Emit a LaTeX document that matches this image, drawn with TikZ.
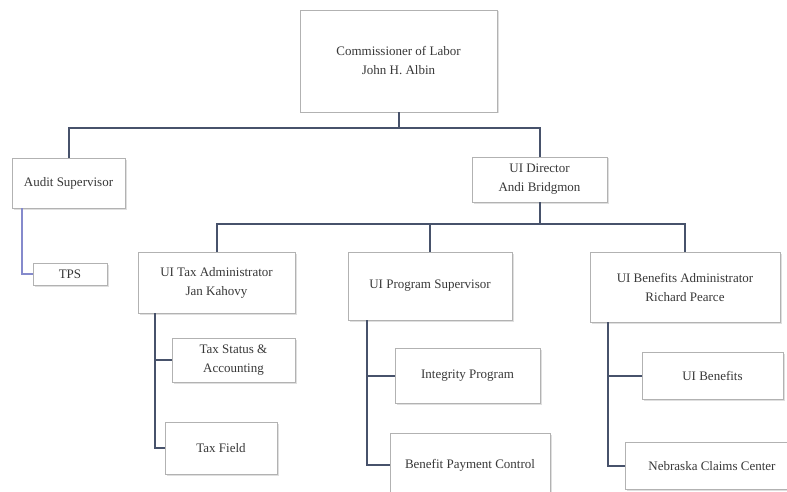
\documentclass[tikz,border=0pt]{standalone}
\usepackage{fontspec}
\setmainfont{Liberation Serif}
\usepackage{tikz}
\usetikzlibrary{positioning,shadows}
\definecolor{colorlink}{rgb}{0.28, 0.32, 0.42}
\definecolor{colorlinkblue}{rgb}{0.52, 0.54, 0.80}
\definecolor{colortext}{rgb}{0.22, 0.22, 0.22}
\tikzstyle{unit}=[rectangle, draw=black!30, line width=0.8pt, fill=white, align=center, text=colortext, inner sep=2pt, font=\fontsize{13}{19}\selectfont, drop shadow={shadow xshift=1.5pt, shadow yshift=-1.5pt, fill=black!25}]
\tikzstyle{link}=[draw=colorlink, line width=2pt]
\tikzstyle{linkblue}=[draw=colorlinkblue, line width=2pt]

\begin{document}
\begin{tikzpicture}[x=1pt, y=-1pt]
		\useasboundingbox (0, 0) rectangle (787, 492);
		
		\node[unit, minimum width=197pt, minimum height=102pt] at (398.5, 61) (comm) {Commissioner of Labor \\ John H. Albin};
		
		\node[unit, minimum width=113pt, minimum height=50pt] at (68.5, 183) (audit) {Audit Supervisor};
		\node[unit, minimum width=74pt, minimum height=22pt] at (70, 274) (tps) {TPS};
		
		\node[unit, minimum width=135pt, minimum height=45pt] at (539.5, 179.5) (dir) {UI Director \\ Andi Bridgmon};
		
		\node[unit, minimum width=157pt, minimum height=61pt] at (216.5, 282.5) (taxadm) {UI Tax Administrator \\ Jan Kahovy};
		\node[unit, minimum width=164pt, minimum height=68pt] at (430, 286) (prog) {UI Program Supervisor};
		\node[unit, minimum width=190pt, minimum height=70pt] at (685, 287) (benadm) {UI Benefits Administrator \\ Richard Pearce};
		
		\node[unit, minimum width=123pt, minimum height=44pt] at (233.5, 360) (status) {Tax Status \& \\ Accounting};
		\node[unit, minimum width=112pt, minimum height=52pt] at (221, 448) (field) {Tax Field};
		
		\node[unit, minimum width=145pt, minimum height=55pt] at (467.5, 375.5) (integ) {Integrity Program};
		\node[unit, minimum width=160pt, minimum height=64pt] at (470, 465) (bpc) {Benefit Payment Control};
		
		\node[unit, minimum width=141pt, minimum height=47pt] at (712.5, 376) (uiben) {UI Benefits};
		\node[unit, minimum width=174pt, minimum height=47pt] at (712, 466) (ncc) {Nebraska Claims Center};
		
		\coordinate (bus1) at (0, 128);
		\coordinate (bus2) at (0, 224);
		
		\draw[link] (comm.south) -- (comm.south |- bus1);
		\draw[link] (audit.north) -- (audit.north |- bus1) -- (dir.north |- bus1) -- (dir.north);
		\draw[linkblue] ([xshift=10pt]audit.south west) |- (tps.west);
		
		\draw[link] (dir.south) -- (dir.south |- bus2);
		\draw[link] (taxadm.north) -- (taxadm.north |- bus2) -- (benadm.north |- bus2) -- (benadm.north);
		\draw[link] (prog.north |- bus2) -- (prog.north);
		
		\draw[link] ([xshift=17pt]taxadm.south west) |- (status.west);
		\draw[link] ([xshift=17pt]taxadm.south west) |- (field.west);
		\draw[link] ([xshift=19pt]prog.south west) |- (integ.west);
		\draw[link] ([xshift=19pt]prog.south west) |- (bpc.west);
		\draw[link] ([xshift=18pt]benadm.south west) |- (uiben.west);
		\draw[link] ([xshift=18pt]benadm.south west) |- (ncc.west);
		
\end{tikzpicture}
\end{document}
